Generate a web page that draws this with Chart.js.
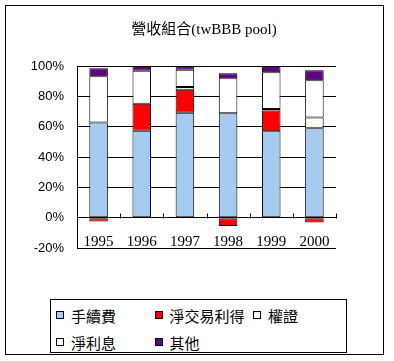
<!DOCTYPE html>
<html>
<head>
<meta charset="utf-8">
<script src="https://cdn.jsdelivr.net/npm/chart.js@4.4.0/dist/chart.umd.min.js"></script>
<style>
html, body { margin: 0; padding: 0; background: #fff; }
#wrap { position: relative; width: 394px; height: 361px; overflow: hidden; background: #fff; }
#frame { position: absolute; left: 5px; top: 5px; width: 379px; height: 350px; border: 1px solid #000; box-sizing: border-box; }
#chart { position: absolute; left: 0; top: 0; }
#title { position: absolute; left: 104px; top: 17px; width: 200px; text-align: center; line-height: 20px; font: 15px 'Liberation Serif', 'Noto Sans CJK TC', serif; color: #000; white-space: nowrap; }
#legend { position: absolute; left: 50px; top: 299px; width: 297px; height: 54px; border: 1px solid #000; box-sizing: border-box; }
.item { position: absolute; height: 20px; line-height: 20px; font: 15px 'Noto Sans CJK TC', sans-serif; color: #000; white-space: nowrap; }
.sw { position: absolute; left: 0; top: 6px; width: 8px; height: 8px; border: 1px solid #000; box-sizing: border-box; }
.lbl { position: absolute; left: 15px; top: 0; }
</style>
</head>
<body>
<div id="wrap">
  <div id="frame"></div>
  <canvas id="chart" width="394" height="295"></canvas>
  <div id="title"></div>
  <div id="legend"></div>
</div>
<script>
// ---------- data ----------
const years = ['1995', '1996', '1997', '1998', '1999', '2000'];
const fee      = [62.8, 57.3, 69.2, 68.8, 56.9, 58.9];   // 手續費
const trading  = [-2.6, 17.8, 15.2, -5.5, 13.8, -3.2];   // 淨交易利得
const warrant  = [0, 0, 1.7, 0, 0.9, 7.2];               // 權證
const interest = [30.4, 21.7, 11.5, 23.1, 24.2, 24.5];   // 淨利息
const other    = [5.3, 3.2, 2.4, 3.3, 4.2, 6.6];         // 其他
const seriesNames = ['手續費', '淨交易利得', '權證', '淨利息', '其他'];
const seriesColors = ['#A6CAF0', '#FF0000', '#FFFBF0', '#FFFFFF', '#600080'];
const yTicks = [-20, 0, 20, 40, 60, 80, 100];
const titleText = '營收組合(twBBB pool)';

const seriesData = [fee, trading, warrant, interest, other];

document.getElementById('title').textContent = titleText;

// small tick marks between categories, pointing up from the 0 line
const catTicks = {
  id: 'catTicks',
  afterDatasetsDraw(chart) {
    const ctx = chart.ctx, x = chart.scales.x, y = chart.scales.y;
    const half = (x.getPixelForValue(1) - x.getPixelForValue(0)) / 2;
    const y0 = Math.round(y.getPixelForValue(0)) + 0.5;
    ctx.save();
    ctx.strokeStyle = '#000'; ctx.lineWidth = 1;
    ctx.beginPath();
    for (let i = 0; i < years.length; i++) {
      const px = Math.round(x.getPixelForValue(i) + half) + 0.5;
      ctx.moveTo(px, y0); ctx.lineTo(px, y0 - 5);
    }
    ctx.stroke();
    ctx.restore();
  }
};

new Chart(document.getElementById('chart'), {
  type: 'bar',
  data: {
    labels: years,
    datasets: seriesNames.map((name, i) => ({
      label: name,
      data: seriesData[i],
      backgroundColor: seriesColors[i],
      borderColor: '#000',
      borderWidth: 1,
      borderSkipped: false,
      categoryPercentage: 1,
      barPercentage: 0.43
    }))
  },
  options: {
    responsive: false,
    animation: false,
    devicePixelRatio: 1,
    layout: { padding: { left: 0, right: 58, top: 66, bottom: 47 } },
    plugins: {
      legend: { display: false },
      tooltip: { enabled: false },
      title: { display: false }
    },
    scales: {
      x: {
        stacked: true,
        position: { y: 0 },
        grid: { display: false, drawTicks: false },
        border: { display: false },
        ticks: {
          color: '#000',
          padding: 15,
          font: { family: "'Liberation Serif', serif", size: 15 }
        },
        afterFit: s => { s.height = 0; }
      },
      y: {
        stacked: true,
        min: -20,
        max: 100,
        afterBuildTicks: s => { s.ticks = yTicks.map(v => ({ value: v })); },
        grid: { color: '#000', lineWidth: 1, drawTicks: false },
        border: { display: true, color: '#000', width: 1 },
        ticks: {
          color: '#000',
          padding: 13,
          font: { family: "'Liberation Sans', sans-serif", size: 13 },
          callback: v => v + '%'
        },
        afterFit: s => { s.width = 77; }
      }
    }
  },
  plugins: [catTicks]
});

// ---------- legend (boxed, two rows, fixed columns) ----------
const legend = document.getElementById('legend');
seriesNames.forEach((name, i) => {
  const row = i < 3 ? 0 : 1, col = i < 3 ? i : i - 3;
  const it = document.createElement('div');
  it.className = 'item';
  it.style.left = (5 + col * 98.5) + 'px';
  it.style.top = (row === 0 ? 5 : 32) + 'px';
  it.innerHTML = `<span class="sw" style="background:${seriesColors[i]}"></span><span class="lbl">${name}</span>`;
  legend.appendChild(it);
});
</script>
</body>
</html>
